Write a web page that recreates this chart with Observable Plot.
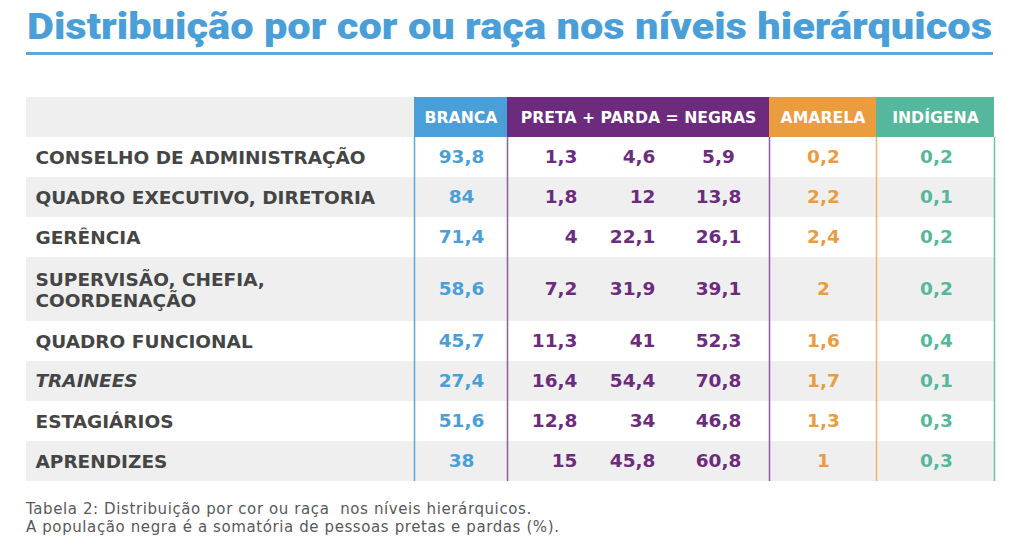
<!DOCTYPE html>
<html><head><meta charset="utf-8">
<script src="https://cdn.jsdelivr.net/npm/d3@7"></script>
<script src="https://cdn.jsdelivr.net/npm/@observablehq/plot@0.6"></script>
<style>
body{margin:0;background:#fff;width:1024px;height:552px;position:relative;overflow:hidden;font-family:"DejaVu Sans",sans-serif}
#title{position:absolute;left:27px;top:5px;font:900 37px Roboto;line-height:44px;color:#4a9fd8;white-space:nowrap;transform-origin:0 0;}
#rule{position:absolute;left:26px;top:52px;width:967px;height:3px;background:#5aa8de}
#chart{position:absolute;left:0;top:60px}
#caption{position:absolute;left:26px;top:500px;font:15px "DejaVu Sans";letter-spacing:0.6px;color:#58595b;line-height:18px}
</style></head><body>
<div id="title">Distribuição por cor ou raça nos níveis hierárquicos</div>
<div id="rule"></div>
<div id="chart"></div>
<div id="caption">Tabela 2: Distribuição por cor ou raça&nbsp; nos níveis hierárquicos.<br>A população negra é a somatória de pessoas pretas e pardas (%).</div>
<script>
// ---- data ----
const levels = [
  "CONSELHO DE ADMINISTRAÇÃO",
  "QUADRO EXECUTIVO, DIRETORIA",
  "GERÊNCIA",
  "SUPERVISÃO, CHEFIA,\nCOORDENAÇÃO",
  "QUADRO FUNCIONAL",
  "TRAINEES",
  "ESTAGIÁRIOS",
  "APRENDIZES"
];
const italicLevels = ["TRAINEES"];
const branca   = [93.8, 84, 71.4, 58.6, 45.7, 27.4, 51.6, 38];
const preta    = [1.3, 1.8, 4, 7.2, 11.3, 16.4, 12.8, 15];
const parda    = [4.6, 12, 22.1, 31.9, 41, 54.4, 34, 45.8];
const negras   = [5.9, 13.8, 26.1, 39.1, 52.3, 70.8, 46.8, 60.8];
const amarela  = [0.2, 2.2, 2.4, 2, 1.6, 1.7, 1.3, 1];
const indigena = [0.2, 0.1, 0.2, 0.2, 0.4, 0.1, 0.3, 0.3];
const headers  = ["BRANCA", "PRETA + PARDA = NEGRAS", "AMARELA", "INDÍGENA"];

// ---- styles / layout ----
const BLUE = "#4a9fd8", PURPLE = "#6c2b7d", ORANGE = "#eb9c3f", TEAL = "#55b79b";
const GRAY = "#eeefee", LABEL = "#454545";
const tableLeft = 26, tableRight = 994, labelX = 35;
const groupEdges = [414, 507, 769, 876, 994];
const groupColors = [BLUE, PURPLE, ORANGE, TEAL];
const lineColors = ["#5aa9e0", "#8f5ca3", "#8f5ca3", "#f0b474", "#6cc4ab"];

const fmt = v => String(v).replace(".", ",");

// rows with heights derived from number of label lines
let acc = 0;
const rows = levels.map((label, i) => {
  const h = label.split("\n").length > 1 ? 1.6 : 1;
  const r = {label, i, y0: acc, y1: acc + h, yc: acc + h / 2};
  acc += h;
  return r;
});
const total = acc;

const headerCells = headers.map((h, i) => ({
  text: h, x1: groupEdges[i], x2: groupEdges[i + 1],
  xc: (groupEdges[i] + groupEdges[i + 1]) / 2, color: groupColors[i]
}));
const dividers = groupEdges.map((x, i) => ({x, color: lineColors[i]}));

const valueCols = [
  {values: branca,   x: 461, anchor: "middle", color: BLUE},
  {values: preta,    x: 577, anchor: "end",    color: PURPLE},
  {values: parda,    x: 655, anchor: "end",    color: PURPLE},
  {values: negras,   x: 718, anchor: "middle", color: PURPLE},
  {values: amarela,  x: 823, anchor: "middle", color: ORANGE},
  {values: indigena, x: 936, anchor: "middle", color: TEAL}
];

const font = "DejaVu Sans";
const valueMarks = valueCols.map(c =>
  Plot.text(rows, {
    x: () => c.x, y: "yc", text: d => fmt(c.values[d.i]),
    textAnchor: c.anchor, fill: c.color, fontWeight: 700, fontSize: 18.5, fontFamily: font
  })
);

const chart = Plot.plot({
  width: 1024, height: 430, margin: 0,
  x: {domain: [0, 1024], range: [0, 1024], axis: null},
  y: {domain: [-1, total], range: [37, 37 + 40 * (total + 1)], axis: null},
  color: {type: "identity"},
  marks: [
    Plot.rect(rows.filter(d => d.i % 2 === 1), {x1: tableLeft, x2: tableRight, y1: "y0", y2: "y1", fill: GRAY}),
    Plot.rect([0], {x1: tableLeft, x2: groupEdges[0], y1: -1, y2: 0, fill: GRAY}),
    Plot.rect(headerCells, {x1: "x1", x2: "x2", y1: -1, y2: 0, fill: d => d.color}),
    Plot.text(headerCells, {x: "xc", y: -0.5, text: "text", fill: "white", fontWeight: 700, fontSize: 15.7, fontFamily: font}),
    Plot.ruleX(dividers, {x: "x", y1: 0, y2: total, stroke: d => d.color, strokeWidth: 1.5}),
    Plot.text(rows.filter(d => !italicLevels.includes(d.label)), {
      x: () => labelX, y: "yc", text: "label", textAnchor: "start", fill: LABEL,
      fontWeight: 700, fontSize: 18.5, lineHeight: 1.15, fontFamily: font
    }),
    Plot.text(rows.filter(d => italicLevels.includes(d.label)), {
      x: () => labelX, y: "yc", text: "label", textAnchor: "start", fill: LABEL,
      fontWeight: 700, fontStyle: "italic", fontSize: 18.5, fontFamily: font
    }),
    ...valueMarks
  ]
});
document.getElementById("chart").append(chart);

// fit title width to the reference's span
const t = document.getElementById("title");
const w = t.getBoundingClientRect().width;
t.style.transform = `scaleX(${965 / w})`;
</script>
</body></html>
